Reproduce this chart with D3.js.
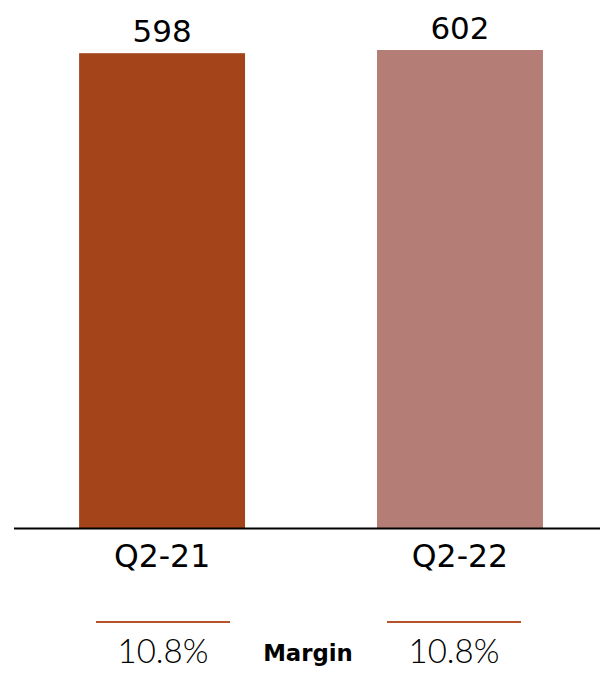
<!DOCTYPE html>
<html>
<head>
<meta charset="utf-8">
<script src="https://cdn.jsdelivr.net/npm/d3@7"></script>
<style>
  html, body { margin: 0; padding: 0; background: #fff; }
  svg { display: block; }
</style>
</head>
<body>
<div id="chart"></div>
<script>
(function(){
  // Quarterly values and margins.
  const categories = ['Q2-21', 'Q2-22'];
  const values = [598, 602];
  const margins = ['10.8%', '10.8%'];
  const barColors = ['#a3441a', '#b47d75'];
  const marginLabel = 'Margin';

  const width = 600, height = 677;
  const baseY = 528;

  const svg = d3.select('#chart').append('svg')
    .attr('width', width)
    .attr('height', height);

  const x = d3.scaleBand()
    .domain(categories)
    .range([14, 600])
    .paddingInner(0.443)
    .paddingOuter(0.205)
    .align(0.533);

  const y = d3.scaleLinear()
    .domain([0, 665])
    .range([baseY, 0]);

  const rows = categories.map((c, i) => ({cat: c, value: values[i], margin: margins[i], color: barColors[i]}));

  // Bars
  svg.selectAll('rect.bar')
    .data(rows)
    .join('rect')
    .attr('class', 'bar')
    .attr('x', d => x(d.cat))
    .attr('y', d => y(d.value))
    .attr('width', x.bandwidth())
    .attr('height', d => y(0) - y(d.value))
    .attr('fill', d => d.color);

  // Value labels above bars
  svg.selectAll('text.value')
    .data(rows)
    .join('text')
    .attr('class', 'value')
    .attr('x', d => x(d.cat) + x.bandwidth() / 2)
    .attr('y', d => y(d.value) - 11)
    .attr('text-anchor', 'middle')
    .style('font-family', '"DejaVu Sans", sans-serif')
    .style('font-size', '31px')
    .attr('fill', '#000')
    .text(d => d.value);

  // Baseline
  svg.append('line')
    .attr('x1', 14).attr('x2', 600)
    .attr('y1', baseY + 0.5).attr('y2', baseY + 0.5)
    .attr('stroke', '#000')
    .attr('stroke-width', 2);

  // Category labels
  svg.selectAll('text.cat')
    .data(rows)
    .join('text')
    .attr('class', 'cat')
    .attr('x', d => x(d.cat) + x.bandwidth() / 2)
    .attr('y', 567)
    .attr('text-anchor', 'middle')
    .style('font-family', '"DejaVu Sans", sans-serif')
    .style('font-size', '31.5px')
    .attr('fill', '#000')
    .text(d => d.cat);

  // Margin row: short rule with the percentage under it
  const mx = d3.scalePoint()
    .domain(categories)
    .range([163, 454]);

  svg.selectAll('line.margin-rule')
    .data(rows)
    .join('line')
    .attr('class', 'margin-rule')
    .attr('x1', d => mx(d.cat) - 67)
    .attr('x2', d => mx(d.cat) + 67)
    .attr('y1', 622).attr('y2', 622)
    .attr('stroke', '#b7532b')
    .attr('stroke-width', 2);

  svg.selectAll('text.margin')
    .data(rows)
    .join('text')
    .attr('class', 'margin')
    .attr('x', d => mx(d.cat))
    .attr('y', 663)
    .attr('text-anchor', 'middle')
    .style('font-family', 'Lato, "Noto Sans", sans-serif')
    .style('font-weight', 300)
    .style('font-size', '33px')
    .attr('fill', '#000')
    .text(d => d.margin);

  svg.append('text')
    .attr('x', 308)
    .attr('y', 661)
    .attr('text-anchor', 'middle')
    .style('font-family', '"DejaVu Sans", sans-serif')
    .style('font-weight', 'bold')
    .style('font-size', '22.8px')
    .attr('fill', '#000')
    .text(marginLabel);
})();
</script>
</body>
</html>
